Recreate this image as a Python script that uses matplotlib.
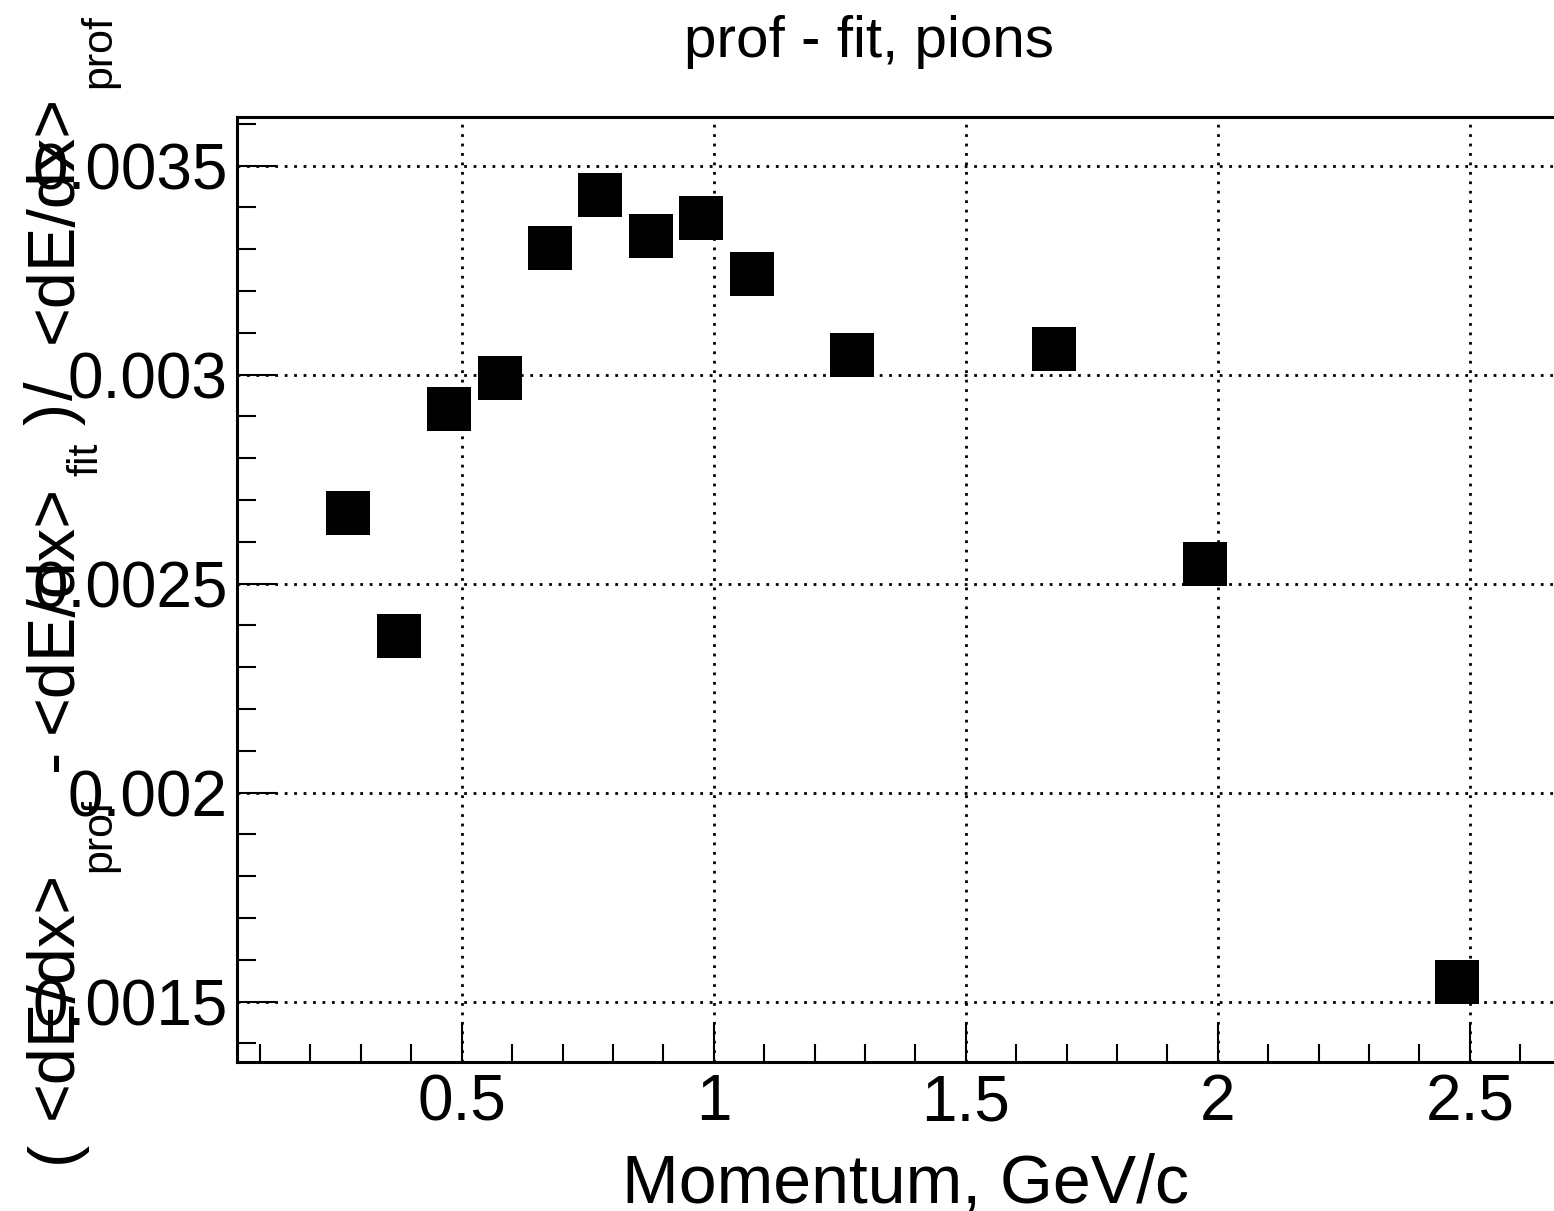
import matplotlib
matplotlib.use("Agg")
import matplotlib.pyplot as plt
import matplotlib.ticker as mticker

plt.rcParams['font.family'] = ['Liberation Sans', 'DejaVu Sans']

# Data
momentum = [0.275, 0.375, 0.475, 0.575, 0.675, 0.775, 0.875, 0.975, 1.075,
            1.275, 1.675, 1.975, 2.475]
rel_diff = [0.002668, 0.002376, 0.002919, 0.002993, 0.003304, 0.003429,
            0.003333, 0.003374, 0.003240, 0.003046, 0.003061, 0.002547,
            0.001546]
x_ticks = [0.5, 1.0, 1.5, 2.0, 2.5]
x_tick_labels = ['0.5', '1', '1.5', '2', '2.5']
y_ticks = [0.0015, 0.002, 0.0025, 0.003, 0.0035]
y_tick_labels = ['0.0015', '0.002', '0.0025', '0.003', '0.0035']

W, H = 1554, 1211
fig = plt.figure(figsize=(W / 100, H / 100), dpi=100)
ax = fig.add_axes([237 / W, 1 - 1062 / H, 1 - 237 / W, (1062 - 117) / H])

ax.plot(momentum, rel_diff, linestyle='none', marker='s', markersize=31.7,
        markerfacecolor='black', markeredgewidth=0, color='black', zorder=3)

ax.set_xlim(0.0542, 2.667)
ax.set_ylim(0.0013557, 0.0036165)

ax.set_xticks(x_ticks)
ax.set_xticklabels(x_tick_labels)
ax.set_yticks(y_ticks)
ax.set_yticklabels(y_tick_labels)
ax.xaxis.set_minor_locator(mticker.MultipleLocator(0.1))
ax.yaxis.set_minor_locator(mticker.MultipleLocator(0.0001))

ax.tick_params(which='both', direction='in', top=False, right=False,
               width=1.5, color='black')
ax.tick_params(axis='x', which='major', length=28, pad=8, labelsize=46)
ax.tick_params(axis='x', which='minor', length=13)
ax.tick_params(axis='y', which='major', length=28, pad=6.5, labelsize=46)
ax.tick_params(axis='y', which='minor', length=14)

ax.grid(True, which='major', color='black', linewidth=2.0,
        linestyle=(0, (1, 2.4)))
ax.set_axisbelow(True)

for s in ['left', 'bottom', 'top']:
    ax.spines[s].set_linewidth(2.2)
ax.spines['right'].set_visible(False)

fig.text(869 / W, 1 - 57 / H, 'prof - fit, pions', fontsize=42,
         ha='center', va='baseline')
fig.text(905 / W, 1 - 1203 / H, 'Momentum, GeV/c', fontsize=49,
         ha='center', va='baseline')

# Y-axis title, ROOT-style, built from pieces (text, size, baseline x px, start y px)
main_fs, sub_fs = 48, 31
ytitle_parts = [
    ('(', main_fs, 72, 1163),
    ('<dE/dx>', main_fs, 72, 1119),
    ('prof', sub_fs, 110, 872),
    ('-', main_fs, 72, 771),
    ('<dE/dx>', main_fs, 72, 733),
    ('fit', sub_fs, 97, 476),
    (')', main_fs, 72, 425),
    ('/', main_fs, 72, 400),
    ('<dE/dx>', main_fs, 72, 343),
    ('prof', sub_fs, 110, 88),
]
for txt, fs, bx, sy in ytitle_parts:
    fig.text(bx / W, 1 - sy / H, txt, fontsize=fs, rotation=90,
             rotation_mode='anchor', ha='left', va='baseline')

fig.savefig('out.png', dpi=100)
